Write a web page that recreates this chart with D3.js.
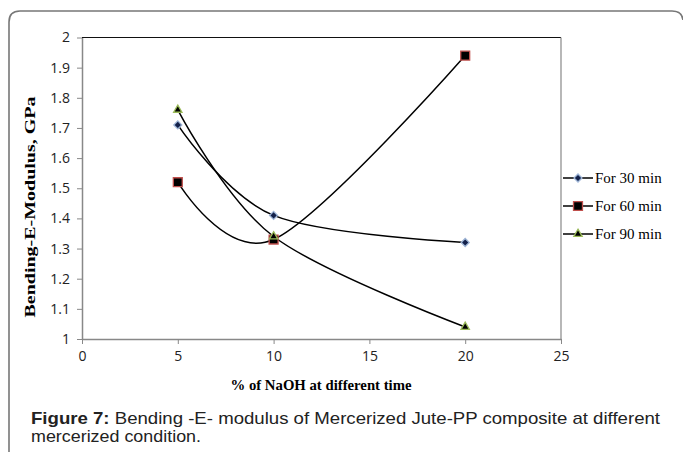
<html>
<head>
<meta charset="UTF-8"/>
<script src="https://d3js.org/d3.v7.min.js"></script>
<title>Bending E-Modulus</title>
<style>
body{ margin:0; background:#fff; }
.tick text{ font-family: "Open Sans", sans-serif; font-size:14px; fill:#222; }
.tick line{ stroke:#888; }
.domain{ stroke:#888; }
</style>
</head>
<body>
<svg id='plot1' width=683 height=452></svg>
<script>
'use strict';
// data
var naoh = [5, 10, 20];
var min30 = [1.71, 1.41, 1.32];
var min60 = [1.52, 1.33, 1.94];
var min90 = [1.76, 1.34, 1.04];
var seriesNames = ['For 30 min', 'For 60 min', 'For 90 min'];
var xTicks = [0, 5, 10, 15, 20, 25];
var yTicks = [1, 1.1, 1.2, 1.3, 1.4, 1.5, 1.6, 1.7, 1.8, 1.9, 2];

var series = [min30, min60, min90].map(function(vals, i){
    return {name: seriesNames[i], pts: naoh.map(function(x, j){ return [x, vals[j]]; })};
});

var svg = d3.select('#plot1');

// outer frame with rounded top corners
svg.append('path')
    .attr('d', 'M9,452 V22 Q9,11 20,11 H672 Q682,11 683,20')
    .attr('fill', 'none').attr('stroke', '#777').attr('stroke-width', 1.6);

var sx = d3.scaleLinear().domain([0, 25]).range([82, 561]);
var sy = d3.scaleLinear().domain([1, 2]).range([339, 37.5]);

var xAxis = d3.axisBottom(sx).tickValues(xTicks).tickSize(5).tickPadding(7).tickSizeOuter(0);
var yAxis = d3.axisLeft(sy).tickValues(yTicks).tickSize(5).tickPadding(7).tickSizeOuter(0)
    .tickFormat(function(d){ return d3.format('')(+d.toFixed(1)); });

// plot area border: top black, right grey
svg.append('line').attr('x1', sx(0)).attr('x2', sx(25)).attr('y1', sy(2)).attr('y2', sy(2))
    .attr('stroke', '#111').attr('stroke-width', 1.2);
svg.append('line').attr('x1', sx(25)).attr('x2', sx(25)).attr('y1', sy(2)).attr('y2', sy(1))
    .attr('stroke', '#888').attr('stroke-width', 1.2);

svg.append('g').attr('transform', 'translate(0,' + sy(1) + ')').call(xAxis);
svg.append('g').attr('transform', 'translate(' + sx(0) + ',0)').call(yAxis);
svg.selectAll('.domain').attr('stroke-width', 1.5);

var line = d3.line()
    .x(function(d){ return sx(d[0]); })
    .y(function(d){ return sy(d[1]); })
    .curve(d3.curveCardinal.tension(0));

svg.selectAll('path.curve').data(series).enter()
    .append('path').attr('class', 'curve')
    .attr('d', function(d){ return line(d.pts); })
    .attr('fill', 'none').attr('stroke', '#000').attr('stroke-width', 1.5);

var markers = [
    {type: d3.symbolSquare, size: 32, rot: 45, fill: '#13214a', stroke: '#9db4d6'},
    {type: d3.symbolSquare, size: 80, rot: 0, fill: '#000', stroke: '#c0504d'},
    {type: d3.symbolTriangle, size: 30, rot: 0, fill: '#000', stroke: '#9bbb59'}
];

series.forEach(function(s, i){
    var m = markers[i];
    svg.selectAll('path.m' + i).data(s.pts).enter()
        .append('path').attr('class', 'm' + i)
        .attr('transform', function(d){ return 'translate(' + sx(d[0]) + ',' + sy(d[1]) + ') rotate(' + m.rot + ')'; })
        .attr('d', d3.symbol().type(m.type).size(m.size))
        .attr('fill', m.fill).attr('stroke', m.stroke).attr('stroke-width', 1.3);
});

// legend
var legendY = [178, 206, 234];
series.forEach(function(s, i){
    var m = markers[i];
    var g = svg.append('g').attr('transform', 'translate(563,' + legendY[i] + ')');
    g.append('line').attr('x1', 0).attr('x2', 30).attr('y1', 0).attr('y2', 0)
        .attr('stroke', '#000').attr('stroke-width', 1.5);
    g.append('path').attr('transform', 'translate(15,0) rotate(' + m.rot + ')')
        .attr('d', d3.symbol().type(m.type).size(m.size))
        .attr('fill', m.fill).attr('stroke', m.stroke).attr('stroke-width', 1.3);
    g.append('text').attr('x', 32).attr('y', 5)
        .style('font-family', '"Liberation Serif", serif').style('font-size', '15px')
        .text(s.name);
});

// axis titles
svg.append('text')
    .attr('transform', 'translate(35,207) rotate(-90)')
    .attr('text-anchor', 'middle')
    .attr('textLength', 221).attr('lengthAdjust', 'spacingAndGlyphs')
    .style('font-family', '"Liberation Serif", serif').style('font-weight', 'bold').style('font-size', '15px')
    .text('Bending-E-Modulus, GPa');

svg.append('text')
    .attr('x', 321).attr('y', 390)
    .attr('text-anchor', 'middle')
    .attr('textLength', 181).attr('lengthAdjust', 'spacingAndGlyphs')
    .style('font-family', '"Liberation Serif", serif').style('font-weight', 'bold').style('font-size', '15px')
    .text('% of NaOH at different time');

// caption
var cap = svg.append('text').attr('x', 31).attr('y', 424)
    .attr('textLength', 629).attr('lengthAdjust', 'spacingAndGlyphs')
    .style('font-family', '"Liberation Sans", Arial, sans-serif').style('font-size', '17px').style('fill', '#222');
cap.append('tspan').style('font-weight', 'bold').text('Figure 7:');
cap.append('tspan').text(' Bending -E- modulus of Mercerized Jute-PP composite at different');
svg.append('text').attr('x', 31).attr('y', 442)
    .attr('textLength', 170).attr('lengthAdjust', 'spacingAndGlyphs')
    .style('font-family', '"Liberation Sans", Arial, sans-serif').style('font-size', '17px').style('fill', '#222')
    .text('mercerized condition.');
</script>
</body>
</html>
